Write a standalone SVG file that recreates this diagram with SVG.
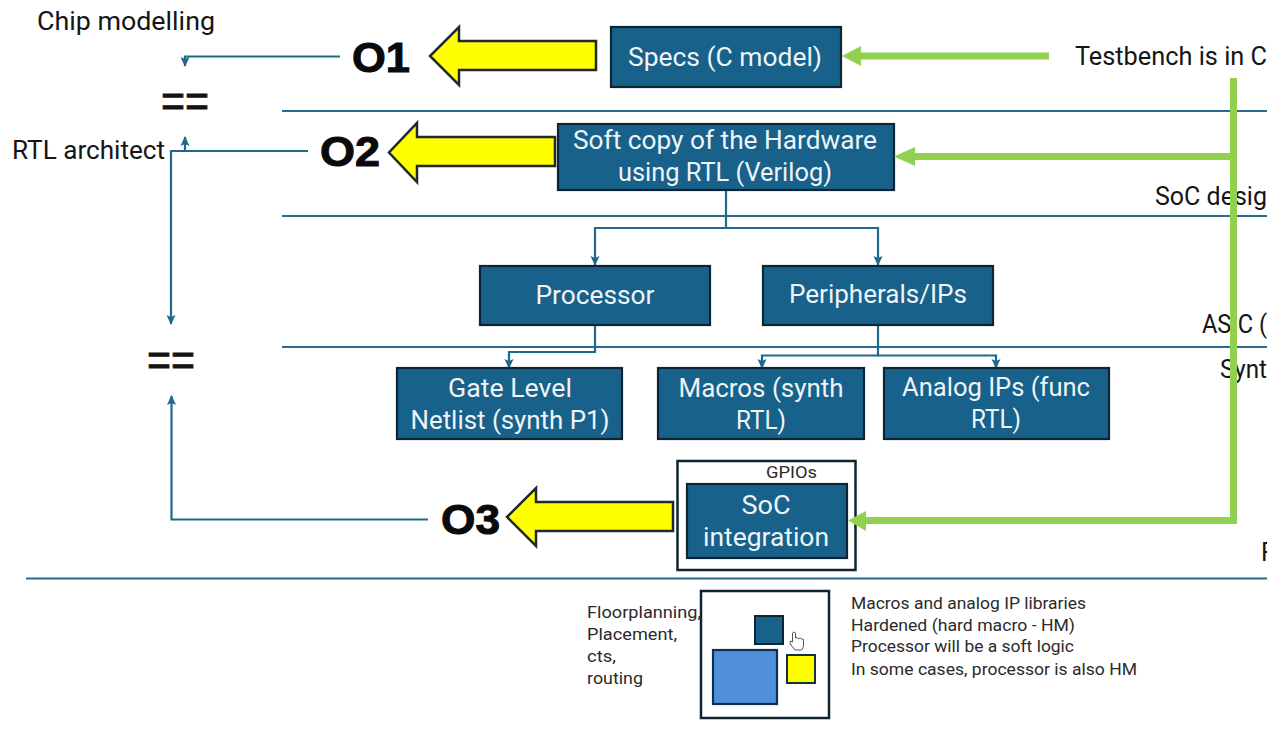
<svg xmlns="http://www.w3.org/2000/svg" width="1267" height="756" viewBox="0 0 1267 756">
<style>
text{font-family:Roboto,"Noto Sans","Liberation Sans",sans-serif}
.box{fill:#17618a;stroke:#0c2433;stroke-width:2.200}
.wt{fill:#eef4f7;font-size:25px;text-anchor:middle}
.bk{fill:#151515;font-size:25px}
.sm{fill:#2a2a2a;font-size:16.500px}
.o{fill:#0a0a0a;stroke:#0a0a0a;stroke-width:1;font-size:43px;font-weight:700;font-family:"Liberation Sans",sans-serif}
.eq{fill:#141414;stroke:#141414;stroke-width:.8;font-size:46px;font-family:"Liberation Sans",sans-serif;text-anchor:middle}
.rule{stroke:#2a6a8c;stroke-width:2;fill:none}
.c{stroke:#1f6a8c;stroke-width:2.200;fill:none}
.ca{stroke:#1f6a8c;stroke-width:2.200;fill:none;marker-end:url(#tip)}
.g{stroke:#92d050;stroke-width:7;fill:none}
.gh{fill:#92d050}
.y{fill:#ffff00;stroke:#1e2a30;stroke-width:2.500}
.frame{fill:#fff;stroke:#10232e;stroke-width:2.500}
</style>
<defs>
<marker id="tip" markerUnits="userSpaceOnUse" markerWidth="10" markerHeight="12" refX="9" refY="5" orient="auto"><path d="M0 0.500L10 5L0 9.500L2 5Z" fill="#1f6a8c"/></marker>
</defs>
<rect width="1267" height="756" fill="#fff"/>
<g id="rules">
<path class="rule" d="M282 111H1267M282 216H1267M282 347H1267M26 578.500H1267"/>
</g>
<g id="labels">
<text class="bk" x="37" y="30" textLength="178" lengthAdjust="spacingAndGlyphs">Chip modelling</text>
<text class="bk" x="12" y="159" textLength="153" lengthAdjust="spacingAndGlyphs">RTL architect</text>
<text class="bk" x="1075" y="65" textLength="192" lengthAdjust="spacingAndGlyphs">Testbench is in C</text>
<text class="bk" x="1155" y="205" textLength="112" lengthAdjust="spacingAndGlyphs">SoC desig</text>
<text class="bk" x="1202" y="333" textLength="65" lengthAdjust="spacingAndGlyphs">ASIC (</text>
<text class="bk" x="1220" y="378" textLength="47" lengthAdjust="spacingAndGlyphs">Synt</text>
<text class="bk" x="1261" y="561">F</text>
<text class="eq" x="185" y="117" textLength="48" lengthAdjust="spacingAndGlyphs">==</text>
<text class="eq" x="171" y="376" textLength="48" lengthAdjust="spacingAndGlyphs">==</text>
<text class="o" x="352" y="72" textLength="58" lengthAdjust="spacingAndGlyphs">O1</text>
<text class="o" x="320" y="166" textLength="60" lengthAdjust="spacingAndGlyphs">O2</text>
<text class="o" x="441" y="534" textLength="59" lengthAdjust="spacingAndGlyphs">O3</text>
</g>
<g id="connectors">
<path class="ca" d="M340 56.500H185V66"/>
<path class="ca" d="M308 151H171V324"/>
<path class="ca" d="M185 151V137"/>
<path class="ca" d="M428 519.500H171.500V396"/>
<path class="ca" d="M726 190V228H595V265"/>
<path class="ca" d="M726 228H878V265"/>
<path class="ca" d="M595 326V352H509V368"/>
<path class="ca" d="M878 326V355.500H762V368"/>
<path class="ca" d="M878 355.500H996V368"/>
</g>
<g id="o1-arrow"><polygon class="y" points="596,41 459,41 459,27 430,56 459,85 459,70 596,70"/></g>
<g id="o2-arrow"><polygon class="y" points="555,137 417,137 417,123 389,152.500 417,182 417,166 555,166"/></g>
<g id="o3-arrow"><polygon class="y" points="673,502 536,502 536,488 507,517 536,546 536,531 673,531"/></g>
<g id="specs"><rect class="box" x="611" y="27" width="230" height="60"/><text class="wt" x="725" y="66" textLength="194" lengthAdjust="spacingAndGlyphs">Specs (C model)</text></g>
<g id="softcopy"><rect class="box" x="558" y="124" width="336" height="66"/><text class="wt" x="725" y="149" textLength="304" lengthAdjust="spacingAndGlyphs">Soft copy of the Hardware</text><text class="wt" x="725" y="181" textLength="214" lengthAdjust="spacingAndGlyphs">using RTL (Verilog)</text></g>
<g id="processor"><rect class="box" x="480" y="266" width="230" height="59"/><text class="wt" x="595" y="304" textLength="119" lengthAdjust="spacingAndGlyphs">Processor</text></g>
<g id="peripherals"><rect class="box" x="763" y="266" width="230" height="59"/><text class="wt" x="878" y="303" textLength="178" lengthAdjust="spacingAndGlyphs">Peripherals/IPs</text></g>
<g id="gate"><rect class="box" x="397" y="368" width="225" height="71"/><text class="wt" x="510" y="397" textLength="124" lengthAdjust="spacingAndGlyphs">Gate Level</text><text class="wt" x="510" y="429" textLength="199" lengthAdjust="spacingAndGlyphs">Netlist (synth P1)</text></g>
<g id="macros"><rect class="box" x="658" y="368" width="206" height="71"/><text class="wt" x="761" y="397" textLength="165" lengthAdjust="spacingAndGlyphs">Macros (synth</text><text class="wt" x="761" y="429" textLength="50" lengthAdjust="spacingAndGlyphs">RTL)</text></g>
<g id="analog"><rect class="box" x="884" y="368" width="225" height="71"/><text class="wt" x="996" y="396" textLength="188" lengthAdjust="spacingAndGlyphs">Analog IPs (func</text><text class="wt" x="996" y="428" textLength="50" lengthAdjust="spacingAndGlyphs">RTL)</text></g>
<g id="soc">
<rect class="frame" x="677.500" y="461" width="178" height="109"/>
<text class="sm" x="766" y="478" textLength="51" lengthAdjust="spacingAndGlyphs">GPIOs</text>
<rect class="box" x="687" y="484" width="160" height="74"/>
<text class="wt" x="766" y="514" textLength="49" lengthAdjust="spacingAndGlyphs">SoC</text>
<text class="wt" x="766" y="546" textLength="126" lengthAdjust="spacingAndGlyphs">integration</text>
</g>
<g id="testbench-connectors">
<path class="g" d="M1049 56H858M1233.500 78V520.500H862M1233 156.500H910"/>
<polygon class="gh" points="842,56 861,46 861,66"/>
<polygon class="gh" points="894,156.500 915,147 915,166"/>
<polygon class="gh" points="848,520.500 866,511 866,531"/>
</g>
<g id="floorplan">
<rect class="frame" x="701" y="591" width="128" height="127"/>
<rect x="755" y="616" width="28" height="28" fill="#17618a" stroke="#0c2433" stroke-width="2"/>
<rect x="713" y="650" width="64" height="54" fill="#4f90d9" stroke="#0e2f50" stroke-width="2.200"/>
<rect x="787" y="655" width="28" height="28" fill="#ffff00" stroke="#14303f" stroke-width="2"/>
<path d="M795 650l-4 -5q-2 -3 -.5 -4l2 1v-9q1.500 -2 3 0v5q2 -1 3 .5q2 -1 3 .5q2 -.5 2 1v5q0 3 -2 5z" fill="#fff" stroke="#555" stroke-width="1"/>
</g>
<g id="notes">
<text class="sm" x="587" y="618" textLength="114" lengthAdjust="spacingAndGlyphs">Floorplanning,</text>
<text class="sm" x="587" y="640" textLength="90" lengthAdjust="spacingAndGlyphs">Placement,</text>
<text class="sm" x="587" y="662" textLength="29" lengthAdjust="spacingAndGlyphs">cts,</text>
<text class="sm" x="587" y="684" textLength="56" lengthAdjust="spacingAndGlyphs">routing</text>
<text class="sm" x="851" y="609" textLength="235" lengthAdjust="spacingAndGlyphs">Macros and analog IP libraries</text>
<text class="sm" x="851" y="631" textLength="224" lengthAdjust="spacingAndGlyphs">Hardened (hard macro - HM)</text>
<text class="sm" x="851" y="652" textLength="223" lengthAdjust="spacingAndGlyphs">Processor will be a soft logic</text>
<text class="sm" x="851" y="675" textLength="286" lengthAdjust="spacingAndGlyphs">In some cases, processor is also HM</text>
</g>
</svg>
